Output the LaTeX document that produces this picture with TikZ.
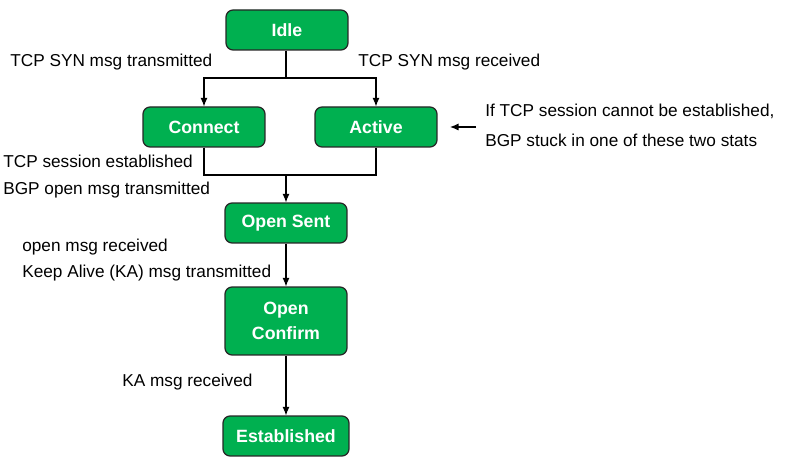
\documentclass[tikz,border=0pt]{standalone}
\usepackage{fontspec}
\setmainfont{Liberation Sans}
\usetikzlibrary{arrows.meta}
\definecolor{stategreen}{HTML}{00B050}

\tikzset{
  state/.style={draw=black!85,line width=0.7pt,fill=stategreen,rounded corners=4pt,
    minimum width=2.44cm,minimum height=0.8cm,text=white,align=center,
    font=\fontsize{10.1}{14}\selectfont\bfseries},
  note/.style={anchor=west,inner sep=0pt,align=left,font=\fontsize{9.8}{15.3}\selectfont},
  flow/.style={line width=0.6pt,-{Latex[length=1.7mm,width=1.4mm]}}
}

\begin{document}
\begin{tikzpicture}[x=0.02cm,y=-0.02cm]
  \useasboundingbox (0,0) rectangle (785,469);
  % states
  \node[state] (idle) at (287,30) {Idle};
  \node[state] (connect) at (204,127) {Connect};
  \node[state] (active) at (376,127) {Active};
  \node[state] (opensent) at (286,223) {Open Sent};
  \node[state,minimum height=1.36cm] (openconfirm) at (286,321) {Open\\Confirm};
  \node[state,minimum width=2.52cm] (established) at (286,436) {Established};
  % labels
  \node[note] (synout) at (10,62) {TCP SYN msg transmitted};
  \node[note] (synin) at (358,62) {TCP SYN msg received};
  \node[note,font=\fontsize{9.8}{17}\selectfont] (stuck) at (485,125) {If TCP session cannot be established,\\BGP stuck in one of these two stats};
  \node[note] (tcpup) at (3,176.5) {TCP session established\\BGP open msg transmitted};
  \node[note] (openin) at (22,260) {open msg received\\Keep Alive (KA) msg transmitted};
  \node[note] (kain) at (122,382) {KA msg received};
  % connectors
  \coordinate (split) at (286,78);
  \coordinate (join) at (286,175);
  \coordinate (hint) at (476,127);
  \draw[line width=0.6pt] (idle.south -| split) -- (split);
  \draw[flow] (split) -| (connect.north);
  \draw[flow] (split) -| (active.north);
  \draw[line width=0.6pt] (connect.south) |- (join);
  \draw[line width=0.6pt] (active.south) |- (join);
  \draw[flow] (join) -- (opensent.north);
  \draw[flow] (opensent.south) -- (openconfirm.north);
  \draw[flow] (openconfirm.south) -- (established.north);
  \draw[flow] (hint) -- ++(-26,0);
\end{tikzpicture}
\end{document}
